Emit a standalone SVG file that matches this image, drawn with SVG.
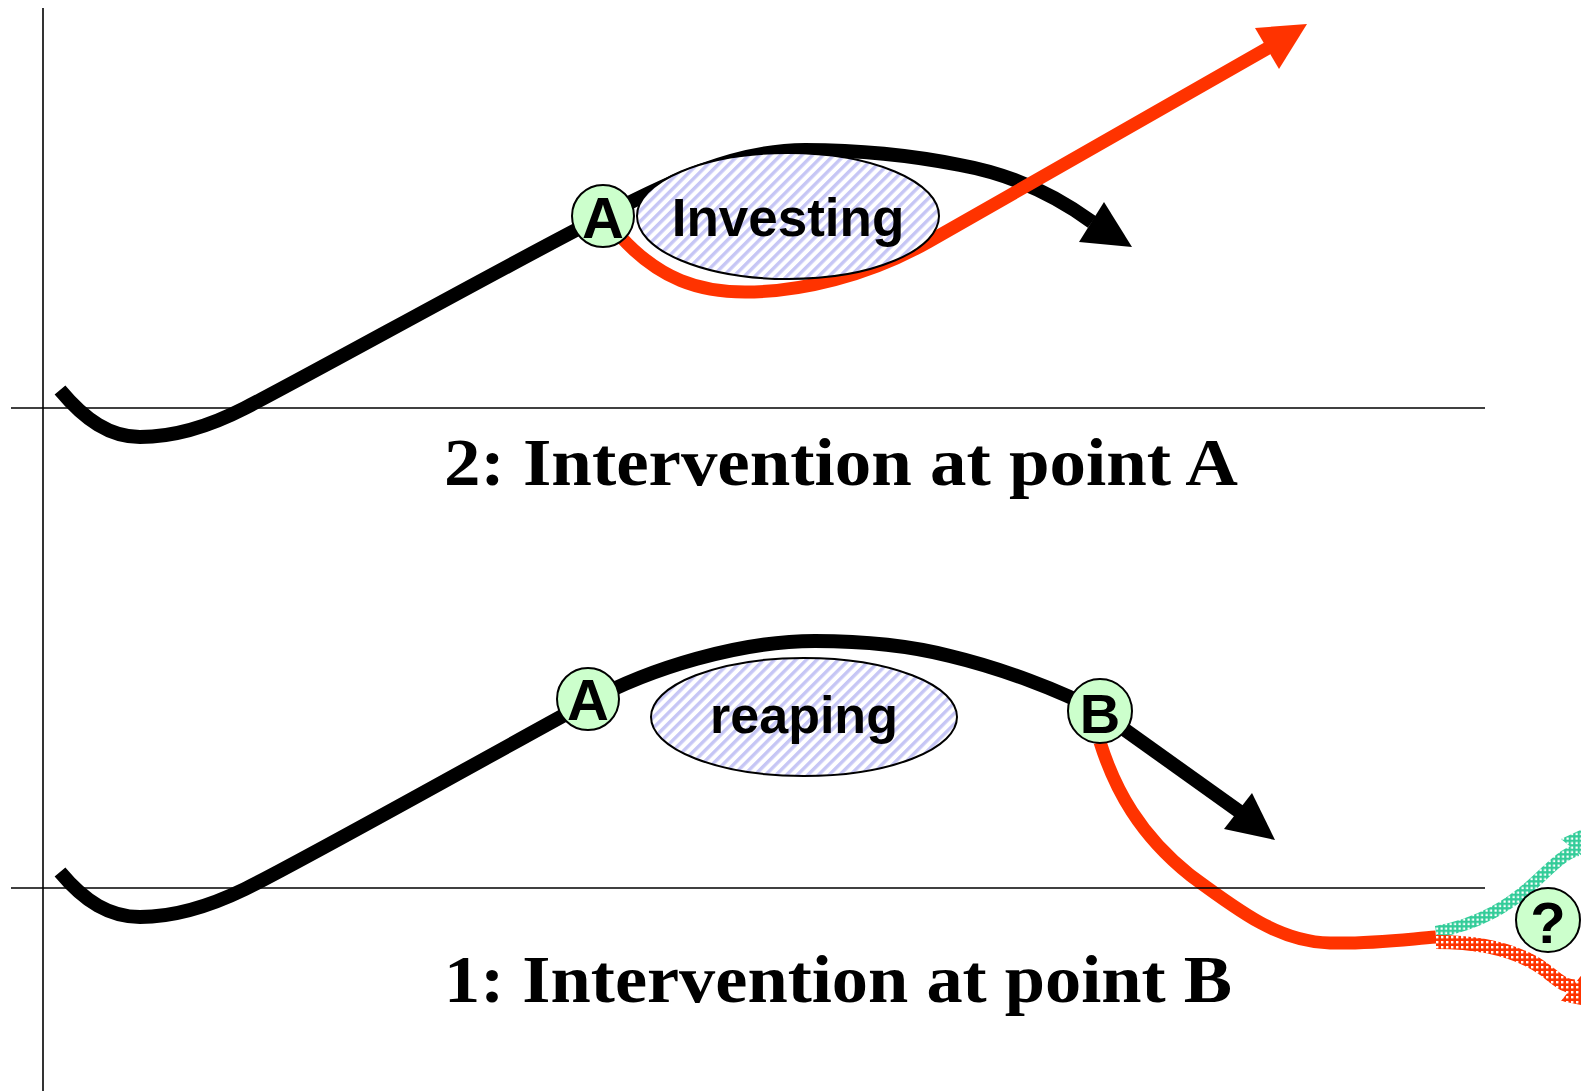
<svg xmlns="http://www.w3.org/2000/svg" width="1581" height="1091" viewBox="0 0 1581 1091">
<defs>
<pattern id="stripes" width="7.5" height="7.5" patternUnits="userSpaceOnUse" patternTransform="rotate(45)">
<rect width="7.5" height="7.5" fill="#ffffff"/>
<rect width="3.4" height="7.5" fill="#c6c6f5"/>
</pattern>
<pattern id="tealChk" width="4.5" height="4.5" patternUnits="userSpaceOnUse">
<rect width="4.5" height="4.5" fill="#33cc99"/>
<rect x="0.5" y="0.5" width="2.2" height="2.2" fill="#ffffff"/>
</pattern>
<pattern id="redChk" width="5" height="5" patternUnits="userSpaceOnUse">
<rect width="5" height="5" fill="#ff3300"/>
<rect x="1" y="1" width="2.4" height="2.4" fill="#ffffff"/>
</pattern>
</defs>
<style>
.blk{fill:none;stroke:#000;stroke-width:14}
.red{fill:none;stroke:#ff3300;stroke-width:13}
.axis{fill:none;stroke:#000;stroke-width:1.6}
.ell{fill:url(#stripes);stroke:#000;stroke-width:2}
.dot{fill:#ccffcc;stroke:#000;stroke-width:2}
.lbl{font-family:"Liberation Sans",Arial,sans-serif;font-weight:bold;fill:#000;text-anchor:middle}
.title{font-family:"Liberation Serif","Times New Roman",serif;font-weight:bold;font-size:68px;fill:#000}
</style>

<g id="connectors">
<!-- top panel black -->
<path class="blk" d="M60,390 C85,420 110,437 140,437 C175,437 210,426 245,408 C300,380 520,258 603,216 C660,187 730,150 805,150 C870,150 920,157 960,165 C1010,174 1055,195 1092,222"/>
<polygon points="1079,242 1132,247 1104,202" fill="#000"/>
<!-- top panel red -->
<path class="red" d="M620,236 C660,280 700,292 745,292 C800,292 868,276 928,242 L1268,48"/>
<polygon points="1255,28 1307,24 1279,69" fill="#ff3300"/>

<!-- bottom panel black -->
<path class="blk" d="M60,872 C85,902 110,917 140,917 C175,917 210,906 245,889 C300,862 500,750 588,702 C650,668 740,641 815,641 C870,641 915,647 950,656 C1000,668 1060,690 1100,712"/>
<path class="blk" d="M1100,712 L1240,812"/>
<polygon points="1224,829 1275,840 1252,793" fill="#000"/>
<!-- bottom panel red -->
<path class="red" d="M1100,742 C1115,790 1140,835 1190,875 C1240,912 1280,942 1330,943 C1370,944 1400,940 1436,937"/>
<!-- outcome branches -->
<path fill="none" stroke="url(#tealChk)" stroke-width="12" d="M1436,932 C1480,924 1510,905 1535,882 C1552,866 1566,852 1578,850"/>
<polygon points="1561,839 1606,818 1594,866" fill="url(#tealChk)"/>
<path fill="none" stroke="url(#redChk)" stroke-width="14" d="M1436,942 C1480,942 1518,950 1545,970 C1558,980 1566,988 1576,986"/>
<polygon points="1561,1001 1607,1010 1588,967" fill="url(#redChk)"/>
</g>

<g id="axes">
<line class="axis" x1="43" y1="8" x2="43" y2="1091"/>
<line class="axis" x1="11" y1="408" x2="1485" y2="408"/>
<line class="axis" x1="11" y1="888" x2="1485" y2="888"/>
</g>

<g id="node-investing">
<ellipse class="ell" cx="788" cy="216" rx="151" ry="63"/>
<text class="lbl" x="788" y="236" font-size="53">Investing</text>
</g>
<g id="node-A-top">
<circle class="dot" cx="603" cy="216" r="31"/>
<text class="lbl" x="603" y="238" font-size="58">A</text>
</g>

<g id="node-reaping">
<ellipse class="ell" cx="804" cy="717" rx="153" ry="59"/>
<text class="lbl" x="804" y="733" font-size="52">reaping</text>
</g>
<g id="node-A-bottom">
<circle class="dot" cx="588" cy="699" r="31"/>
<text class="lbl" x="588" y="720" font-size="58">A</text>
</g>
<g id="node-B">
<circle class="dot" cx="1100" cy="711" r="32"/>
<text class="lbl" x="1100" y="733" font-size="56">B</text>
</g>
<g id="node-question">
<circle class="dot" cx="1548" cy="920" r="32"/>
<text class="lbl" x="1548" y="943" font-size="58">?</text>
</g>

<g id="titles">
<text class="title" x="444" y="485" textLength="794" lengthAdjust="spacingAndGlyphs">2: Intervention at point A</text>
<text class="title" x="444" y="1002" textLength="788" lengthAdjust="spacingAndGlyphs">1: Intervention at point B</text>
</g>
</svg>
